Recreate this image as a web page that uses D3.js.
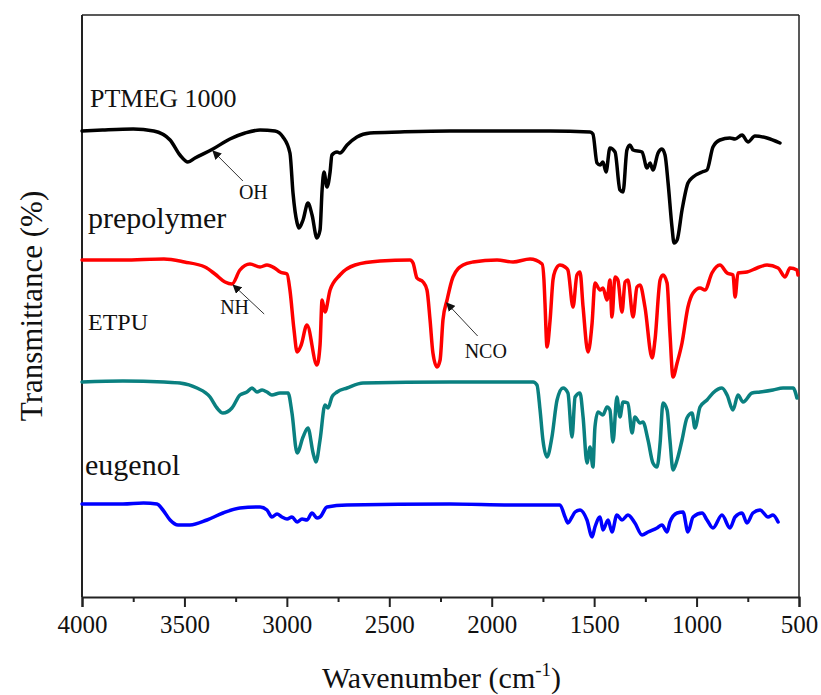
<!DOCTYPE html>
<html>
<head>
<meta charset="utf-8">
<script src="https://cdn.jsdelivr.net/npm/d3@7"></script>
<style>
  html, body { margin: 0; padding: 0; background: #fff; }
  svg { display: block; }
</style>
</head>
<body>
<svg id="chart" width="821" height="695"></svg>
<script>
// FTIR spectra, offset vertically: [wavenumber (cm-1), transmittance]
const ptmeg = [
  [4000,46.6],[3900,46.7],[3750,46.8],[3650,46.6],[3570,45.7],[3522,44.2],[3483,43.5],[3448,43.9],
  [3361,44.8],[3278,45.8],[3204,46.4],[3131,46.7],[3058,46.6],[3019,46.0],[2985,44.4],[2970,40.4],
  [2950,37.4],[2941,36.9],[2921,37.7],[2897,39.4],[2877,38.2],[2853,35.9],[2838,36.7],[2828,40.7],
  [2819,42.5],[2804,41.0],[2789,42.5],[2780,44.2],[2755,44.5],[2741,44.4],[2706,45.2],[2658,46.0],
  [2594,46.4],[2448,46.5],[2204,46.6],[1960,46.6],[1715,46.6],[1520,46.5],[1506,46.3],[1486,43.4],
  [1471,43.2],[1457,43.5],[1442,42.5],[1423,44.9],[1398,44.5],[1374,40.7],[1359,40.5],[1340,44.7],
  [1325,45.2],[1310,44.7],[1266,44.5],[1242,42.9],[1227,43.4],[1213,42.7],[1188,44.4],[1169,44.8],
  [1154,44.2],[1139,41.4],[1120,37.0],[1110,35.4],[1095,35.7],[1071,38.7],[1042,41.4],[1017,42.0],
  [973,42.5],[949,42.7],[920,45.0],[886,45.7],[837,45.9],[812,45.8],[778,46.2],[749,45.5],
  [715,46.1],[656,45.9],[593,45.4]
];

const prepolymer = [
  [4000,33.7],[3800,33.7],[3600,33.8],[3500,33.5],[3400,33.0],[3351,32.3],[3302,31.5],[3268,31.3],
  [3229,32.7],[3180,33.3],[3131,33.0],[3097,33.2],[3060,32.9],[3033,32.5],[2999,32.3],[2985,30.7],
  [2965,26.7],[2950,24.5],[2930,25.2],[2902,27.2],[2853,23.2],[2838,25.2],[2828,29.7],[2814,28.5],
  [2789,30.7],[2741,32.2],[2667,33.2],[2545,33.6],[2399,33.7],[2384,33.4],[2365,31.9],[2335,31.5],
  [2316,30.7],[2301,27.7],[2287,24.4],[2267,23.0],[2252,23.7],[2238,27.7],[2218,29.7],[2189,32.0],
  [2140,33.2],[2091,33.5],[1974,33.7],[1896,33.5],[1813,33.8],[1754,33.3],[1745,31.7],[1740,29.4],
  [1730,25.0],[1715,27.7],[1701,31.7],[1691,32.6],[1667,33.2],[1642,33.0],[1628,32.7],[1603,29.0],
  [1584,32.2],[1569,32.5],[1554,29.0],[1530,24.5],[1510,27.4],[1496,31.4],[1471,30.7],[1457,30.9],
  [1437,29.7],[1423,31.7],[1413,28.0],[1398,32.0],[1384,31.7],[1364,28.5],[1349,31.5],[1335,31.7],
  [1310,28.0],[1291,31.0],[1276,31.2],[1252,29.0],[1217,23.9],[1203,25.7],[1178,31.7],[1164,32.2],
  [1144,31.4],[1130,26.4],[1115,22.0],[1095,23.4],[1071,25.4],[1042,29.0],[1017,30.4],[983,30.9],
  [959,30.7],[925,32.4],[886,33.2],[851,32.4],[822,32.2],[812,30.0],[798,32.4],[754,32.5],
  [705,32.9],[656,33.2],[602,32.9],[568,32.0],[544,32.9],[510,32.7],[505,32.2]
];

const etpu = [
  [4000,21.5],[3800,21.6],[3600,21.5],[3522,21.4],[3439,20.9],[3375,20.0],[3341,18.9],[3312,18.4],
  [3268,18.9],[3229,20.2],[3195,20.5],[3170,20.9],[3146,20.5],[3121,20.7],[3097,20.5],[3073,20.2],
  [3033,20.4],[2994,20.4],[2975,18.4],[2950,14.4],[2921,16.0],[2897,16.9],[2872,14.4],[2858,13.5],
  [2838,15.7],[2814,19.2],[2799,18.9],[2780,20.0],[2755,20.5],[2706,20.9],[2628,21.4],[2204,21.5],
  [1798,21.5],[1779,21.2],[1764,18.7],[1750,15.7],[1730,14.0],[1706,16.0],[1681,19.7],[1652,20.9],
  [1628,20.4],[1608,16.0],[1593,20.0],[1569,20.4],[1554,18.0],[1535,13.4],[1520,15.0],[1506,13.0],
  [1496,17.0],[1481,18.5],[1457,18.2],[1437,19.0],[1423,18.7],[1408,15.5],[1389,20.0],[1374,18.0],
  [1359,19.5],[1335,19.4],[1315,16.4],[1301,18.0],[1276,17.4],[1262,17.5],[1237,15.7],[1213,13.4],
  [1193,13.0],[1178,15.4],[1164,19.4],[1144,18.7],[1130,15.7],[1115,12.7],[1095,13.7],[1071,15.7],
  [1047,17.9],[1022,18.4],[1008,16.9],[983,19.0],[949,19.7],[920,20.4],[876,20.9],[851,20.2],
  [822,18.7],[798,20.2],[773,19.5],[729,20.4],[690,20.5],[627,20.7],[578,20.9],[529,20.9],[510,19.9]
];

const eugenol = [
  [4000,9.3],[3800,9.3],[3700,9.4],[3634,9.3],[3605,8.7],[3570,7.7],[3531,7.2],[3473,7.2],
  [3390,7.7],[3312,8.4],[3229,8.9],[3131,9.0],[3097,8.7],[3073,8.0],[3048,8.3],[3024,8.0],
  [2999,7.8],[2975,8.0],[2950,7.5],[2926,7.8],[2902,7.7],[2877,8.4],[2853,7.9],[2838,8.0],
  [2804,9.0],[2706,9.2],[2204,9.3],[1900,9.2],[1667,9.2],[1642,8.0],[1628,7.4],[1608,8.0],
  [1593,8.5],[1569,8.7],[1535,7.7],[1510,6.0],[1496,7.0],[1471,8.0],[1457,6.7],[1432,7.7],
  [1413,6.5],[1389,8.2],[1364,7.7],[1335,8.2],[1301,7.4],[1266,6.2],[1237,6.5],[1193,6.9],
  [1169,7.2],[1144,6.5],[1130,7.5],[1095,8.4],[1066,8.5],[1042,6.5],[1017,8.0],[973,8.4],
  [949,7.7],[920,6.9],[876,8.2],[837,6.9],[812,8.0],[778,8.4],[754,7.4],[725,8.4],
  [690,8.7],[651,8.0],[627,8.2],[602,7.5]
];

const seriesNames = ["PTMEG 1000", "prepolymer", "ETPU", "eugenol"];
const seriesColors = ["#000000", "#ff0000", "#0a8080", "#0000ff"];
const xTicks = [4000, 3500, 3000, 2500, 2000, 1500, 1000, 500];
const xMinorTicks = [3750, 3250, 2750, 2250, 1750, 1250, 750];

// band annotations: label, wavenumber, transmittance of the arrow tip
const bandLabels = ["OH", "NH", "NCO"];
const bandPoints = [[3361, 44.6], [3262, 31.2], [2220, 29.4]];

const FONT = "Liberation Serif, Times New Roman, serif";

const svg = d3.select("#chart");
const margin = { left: 82, right: 22, top: 15, bottom: 98 };
const W = 821, H = 695;

const x = d3.scaleLinear().domain([4000, 500]).range([margin.left, W - margin.right]);
const y = d3.scaleLinear().domain([0, 58.2]).range([H - margin.bottom, margin.top]);

// frame
svg.append("line").attr("x1", x(4000)).attr("x2", x(500)).attr("y1", y(58.2)).attr("y2", y(58.2))
  .attr("stroke", "#222").attr("stroke-width", 1.5);
svg.append("line").attr("x1", x(500)).attr("x2", x(500)).attr("y1", y(58.2)).attr("y2", y(0))
  .attr("stroke", "#222").attr("stroke-width", 1.5);
svg.append("line").attr("x1", x(4000)).attr("x2", x(4000)).attr("y1", y(58.2)).attr("y2", y(0))
  .attr("stroke", "#222").attr("stroke-width", 2);

// x axis with major and minor ticks
const xAxis = svg.append("g").attr("transform", `translate(0,${y(0)})`)
  .call(d3.axisBottom(x).tickValues(xTicks).tickSize(10).tickPadding(8).tickFormat(d3.format("d")));
xAxis.attr("font-family", FONT).attr("font-size", 25);
xAxis.select(".domain").attr("stroke", "#222").attr("stroke-width", 2);
xAxis.selectAll(".tick line").attr("stroke", "#222").attr("stroke-width", 2);
xAxis.selectAll(".tick text").attr("fill", "#111");

svg.append("g").attr("transform", `translate(0,${y(0)})`)
  .call(d3.axisBottom(x).tickValues(xMinorTicks).tickSize(5).tickFormat(""))
  .call(g => g.select(".domain").remove())
  .selectAll(".tick line").attr("stroke", "#222").attr("stroke-width", 2);

// spectra
const line = d3.line().x(d => x(d[0])).y(d => y(d[1])).curve(d3.curveMonotoneX);
[ptmeg, prepolymer, etpu, eugenol].forEach((s, i) => {
  svg.append("path").datum(s).attr("d", line).attr("fill", "none")
    .attr("stroke", seriesColors[i]).attr("stroke-width", 3.5)
    .attr("stroke-linejoin", "round").attr("stroke-linecap", "round");
});

// series names
const namePos = [[90, 107, 26], [88, 228, 30], [88, 330, 24], [85, 475, 30]];
seriesNames.forEach((n, i) => {
  svg.append("text").attr("x", namePos[i][0]).attr("y", namePos[i][1])
    .attr("font-family", FONT).attr("fill", "#111")
    .attr("font-size", namePos[i][2]).text(n);
});

// band annotations with arrows
svg.append("defs").append("marker").attr("id", "arrow")
  .attr("viewBox", "0 0 10 10").attr("refX", 9).attr("refY", 5)
  .attr("markerWidth", 9).attr("markerHeight", 9).attr("markerUnits", "userSpaceOnUse")
  .attr("orient", "auto")
  .append("path").attr("d", "M0,0 L10,5 L0,10 z").attr("fill", "#111");

const labelOffsets = [[30, 30], [31, 29], [31, 33]];
const textOffsets = [[-4, 18], [-44, 0], [-13, 22]];
bandLabels.forEach((lab, i) => {
  const tx = x(bandPoints[i][0]), ty = y(bandPoints[i][1]);
  const sx = tx + labelOffsets[i][0], sy = ty + labelOffsets[i][1];
  svg.append("line").attr("x1", sx).attr("y1", sy).attr("x2", tx).attr("y2", ty)
    .attr("stroke", "#333").attr("stroke-width", 1).attr("marker-end", "url(#arrow)");
  svg.append("text").attr("x", sx + textOffsets[i][0]).attr("y", sy + textOffsets[i][1])
    .attr("font-family", FONT).attr("fill", "#111").attr("font-size", 20).text(lab);
});

// axis titles
svg.append("text").attr("transform", `translate(42,${(y(0) + y(58.2)) / 2}) rotate(-90)`)
  .attr("text-anchor", "middle").attr("font-family", FONT).attr("fill", "#111")
  .attr("font-size", 31).text("Transmittance (%)");

const xt = svg.append("text").attr("x", (x(4000) + x(500)) / 2 + 1).attr("y", 688)
  .attr("text-anchor", "middle").attr("font-family", FONT).attr("fill", "#111").attr("font-size", 30);
xt.append("tspan").text("Wavenumber (cm");
xt.append("tspan").attr("dy", -12).attr("font-size", 19).text("-1");
xt.append("tspan").attr("dy", 12).text(")");
</script>
</body>
</html>
